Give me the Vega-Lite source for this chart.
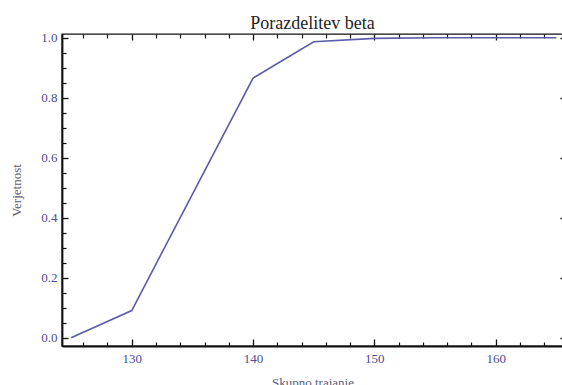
{
  "$schema": "https://vega.github.io/schema/vega-lite/v6.json",
  "width": 501,
  "height": 312,
  "autosize": "none",
  "padding": {"left": 62, "top": 34, "right": 0, "bottom": 39},
  "title": {"text": "Porazdelitev beta", "font": "Liberation Serif", "fontSize": 18, "fontWeight": "normal", "color": "#1e1e1e", "frame": "group", "anchor": "middle", "baseline": "alphabetic", "offset": -15},
  "data": {"values": [
    {"trajanje": 125, "verjetnost": 0.0},
    {"trajanje": 130, "verjetnost": 0.091},
    {"trajanje": 140, "verjetnost": 0.866},
    {"trajanje": 145, "verjetnost": 0.987},
    {"trajanje": 150, "verjetnost": 0.998},
    {"trajanje": 155, "verjetnost": 1.0},
    {"trajanje": 160, "verjetnost": 1.0},
    {"trajanje": 165, "verjetnost": 1.0}
  ]},
  "layer": [
    {
      "mark": {"type": "line", "color": "#5c5ca8", "strokeWidth": 1.6},
      "encoding": {
        "x": {"field": "trajanje", "type": "quantitative", "scale": {"domain": [124.25, 165.55], "nice": false, "zero": false},
          "axis": {"orient": "bottom", "values": [130, 140, 150, 160], "ticks": false, "domain": true, "domainColor": "#111", "domainWidth": 1.8, "labelFont": "Liberation Serif", "labelFontSize": 13, "labelColor": "#4d4d8f", "labelPadding": 6, "title": "Skupno trajanje", "titleFont": "Liberation Serif", "titleFontSize": 13, "titleFontWeight": "normal", "titleColor": "#5a5a78", "titlePadding": 11, "grid": false}},
        "y": {"field": "verjetnost", "type": "quantitative", "scale": {"domain": [-0.0273, 1.0127], "nice": false, "zero": false},
          "axis": {"orient": "left", "values": [0, 0.2, 0.4, 0.6, 0.8, 1.0], "format": ".1f", "ticks": false, "domain": true, "domainColor": "#111", "domainWidth": 1.8, "labelFont": "Liberation Serif", "labelFontSize": 13, "labelColor": "#4d4d8f", "labelPadding": 5, "title": "Verjetnost", "titleFont": "Liberation Serif", "titleFontSize": 13, "titleFontWeight": "normal", "titleColor": "#5a5a78", "titlePadding": 17, "grid": false}}
      }
    },
    {
      "mark": {"type": "line", "opacity": 0},
      "encoding": {
        "x": {"field": "trajanje", "type": "quantitative",
          "axis": {"orient": "bottom", "values": [130, 140, 150, 160], "offset": -7, "tickSize": 7, "tickColor": "#111", "tickWidth": 1.3, "labels": false, "domain": false, "title": null, "grid": false}},
        "y": {"field": "verjetnost", "type": "quantitative",
          "axis": {"orient": "left", "values": [0, 0.2, 0.4, 0.6, 0.8, 1.0], "offset": -6, "tickSize": 6, "tickColor": "#111", "tickWidth": 1.3, "labels": false, "domain": false, "title": null, "grid": false}}
      }
    },
    {
      "mark": {"type": "line", "opacity": 0},
      "encoding": {
        "x": {"field": "trajanje", "type": "quantitative",
          "axis": {"orient": "bottom", "values": [126, 128, 132, 134, 136, 138, 142, 144, 146, 148, 152, 154, 156, 158, 162, 164], "offset": -4, "tickSize": 4, "tickColor": "#111", "tickWidth": 1.2, "labels": false, "domain": false, "title": null, "grid": false}},
        "y": {"field": "verjetnost", "type": "quantitative",
          "axis": {"orient": "left", "values": [0.05, 0.1, 0.15, 0.25, 0.3, 0.35, 0.45, 0.5, 0.55, 0.65, 0.7, 0.75, 0.85, 0.9, 0.95], "offset": -4, "tickSize": 4, "tickColor": "#111", "tickWidth": 1.2, "labels": false, "domain": false, "title": null, "grid": false}}
      }
    },
    {
      "mark": {"type": "line", "opacity": 0},
      "encoding": {
        "x": {"field": "trajanje", "type": "quantitative",
          "axis": {"orient": "top", "values": [130, 140, 150, 160], "offset": -6, "tickSize": 6, "tickColor": "#111", "tickWidth": 1.3, "labels": false, "domain": false, "title": null, "grid": false}},
        "y": {"field": "verjetnost", "type": "quantitative",
          "axis": {"orient": "right", "values": [0, 0.2, 0.4, 0.6, 0.8, 1.0], "offset": -3, "tickSize": 3, "tickColor": "#111", "tickWidth": 1.3, "labels": false, "domain": false, "title": null, "grid": false}}
      }
    },
    {
      "mark": {"type": "line", "opacity": 0},
      "encoding": {
        "x": {"field": "trajanje", "type": "quantitative",
          "axis": {"orient": "top", "values": [126, 128, 132, 134, 136, 138, 142, 144, 146, 148, 152, 154, 156, 158, 162, 164], "offset": -4, "tickSize": 4, "tickColor": "#111", "tickWidth": 1.2, "labels": false, "domain": false, "title": null, "grid": false}},
        "y": {"field": "verjetnost", "type": "quantitative", "axis": null}
      }
    }
  ],
  "resolve": {"axis": {"x": "independent", "y": "independent"}},
  "config": {"view": {"stroke": "#111", "strokeWidth": 1.4}}
}
